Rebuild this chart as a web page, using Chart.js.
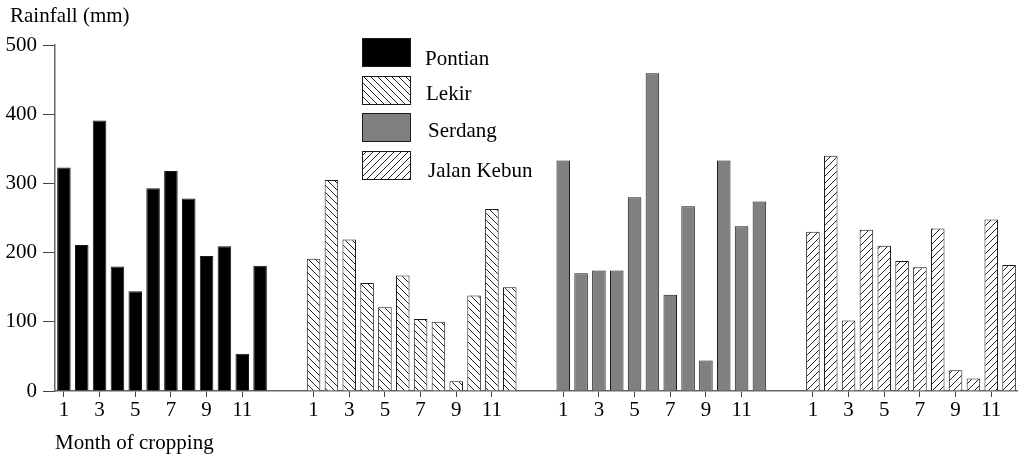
<!DOCTYPE html>
<html>
<head>
<meta charset="utf-8">
<script src="https://cdn.jsdelivr.net/npm/chart.js@4.4.1/dist/chart.umd.min.js"></script>
<style>
  body { margin: 0; background: #fff; }
  #wrap { width: 1018px; height: 455px; }
</style>
</head>
<body>
<div id="wrap"><canvas id="rainChart" width="1018" height="455"></canvas></div>
<script>
const months = [1, 2, 3, 4, 5, 6, 7, 8, 9, 10, 11, 12];
const stations = ['Pontian', 'Lekir', 'Serdang', 'Jalan Kebun'];
const pontian = [323, 211, 391, 180, 144, 293, 318, 278, 195, 209, 54, 181];
const lekir = [191, 305, 219, 156, 121, 167, 104, 100, 14, 138, 263, 150];
const serdang = [333, 170, 174, 174, 280, 459, 139, 267, 44, 333, 238, 274];
const jalanKebun = [230, 340, 102, 233, 210, 188, 179, 235, 30, 18, 248, 182];
const yTicks = [0, 100, 200, 300, 400, 500];
const gapSlots = 2;

const FONT = '"Liberation Serif", "Times New Roman", serif';

// hatch pattern, dir 1 = "\" , -1 = "/"
function hatch(dir) {
    const s = 7;
    const c = document.createElement('canvas');
    c.width = s; c.height = s;
    const g = c.getContext('2d');
    g.fillStyle = '#fff';
    g.fillRect(0, 0, s, s);
    g.strokeStyle = '#222';
    g.lineWidth = 1;
    g.beginPath();
    if (dir > 0) {
        g.moveTo(0, 0); g.lineTo(s, s);
        g.moveTo(-1, s - 1); g.lineTo(1, s + 1);
        g.moveTo(s - 1, -1); g.lineTo(s + 1, 1);
    } else {
        g.moveTo(0, s); g.lineTo(s, 0);
        g.moveTo(-1, 1); g.lineTo(1, -1);
        g.moveTo(s - 1, s + 1); g.lineTo(s + 1, s - 1);
    }
    g.stroke();
    return g.createPattern(c, 'repeat');
}

const fills = ['#000', hatch(1), '#808080', hatch(-1)];
const series = [pontian, lekir, serdang, jalanKebun];

// one long category axis: 12 months per station, 2 empty slots between
const labels = [];
series.forEach((_, g) => {
    months.forEach(m => labels.push(String(m)));
    if (g < series.length - 1) for (let i = 0; i < gapSlots; i++) labels.push('');
});

const datasets = series.map((vals, g) => {
    const start = g * (months.length + gapSlots);
    const data = labels.map((_, i) => {
        const k = i - start;
        return k >= 0 && k < months.length ? vals[k] : null;
    });
    return {
        label: stations[g],
        data: data,
        backgroundColor: fills[g],
        borderColor: '#1a1a1a',
        borderWidth: 1,
        borderSkipped: 'bottom',
        barPercentage: 0.76,
        categoryPercentage: 1
    };
});

const isShown = i => labels[i] !== '' && Number(labels[i]) % 2 === 1;

const extras = {
    id: 'extras',
    afterDraw(chart) {
        const ctx = chart.ctx;
        ctx.save();
        ctx.fillStyle = '#000';
        ctx.font = '21px ' + FONT;
        ctx.textBaseline = 'alphabetic';
        ctx.textAlign = 'left';
        ctx.fillText('Rainfall (mm)', 10, 22);
        ctx.fillText('Month of cropping', 55, 449);

        // legend
        const bx = 362, bw = 49, bh = 29;
        const tops = [38, 76, 113, 151];
        const textX = [425, 426, 428, 428];
        const base = [65, 100, 137, 177];
        chart.data.datasets.forEach((ds, i) => {
            const top = tops[i];
            ctx.fillStyle = ds.backgroundColor;
            ctx.fillRect(bx, top, bw, bh);
            ctx.strokeStyle = '#1a1a1a';
            ctx.lineWidth = 1;
            ctx.strokeRect(bx + 0.5, top + 0.5, bw - 1, bh - 1);
            ctx.fillStyle = '#000';
            ctx.fillText(ds.label, textX[i], base[i]);
        });
        ctx.restore();
    }
};

new Chart(document.getElementById('rainChart'), {
    type: 'bar',
    data: { labels: labels, datasets: datasets },
    plugins: [extras],
    options: {
        responsive: false,
        animation: false,
        layout: { padding: { top: 45, right: 0, left: 0, bottom: 0 } },
        datasets: { bar: { grouped: false } },
        plugins: { legend: { display: false }, tooltip: { enabled: false } },
        scales: {
            x: {
                offset: true,
                afterFit: s => { s.height = 64; },
                border: { display: true, color: '#666', width: 1.5 },
                grid: {
                    offset: false,
                    drawOnChartArea: false,
                    drawTicks: true,
                    tickLength: 6,
                    tickColor: c => isShown(c.index) ? '#444' : 'rgba(0,0,0,0)'
                },
                ticks: {
                    autoSkip: false,
                    maxRotation: 0,
                    padding: 1,
                    color: '#000',
                    font: { family: FONT, size: 21 },
                    callback: (v, i) => isShown(i) ? labels[i] : ''
                }
            },
            y: {
                min: 0,
                max: 500,
                afterFit: s => { s.width = 55; },
                afterBuildTicks: s => { s.ticks = yTicks.map(v => ({ value: v })); },
                border: { display: true, color: '#666', width: 1.5 },
                grid: {
                    drawOnChartArea: false,
                    drawTicks: true,
                    tickLength: 12,
                    tickColor: '#444'
                },
                ticks: {
                    padding: 6,
                    color: '#000',
                    font: { family: FONT, size: 21 }
                }
            }
        }
    }
});
</script>
</body>
</html>
